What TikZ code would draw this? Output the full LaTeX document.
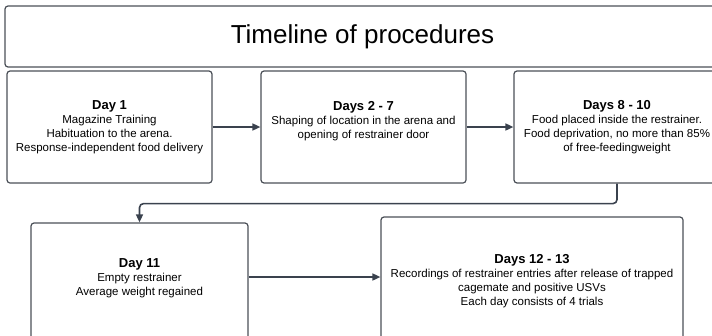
\documentclass[tikz,border=0pt]{standalone}
\usepackage{fontspec}
\setmainfont{Liberation Sans}
\usepackage{tikz}
\usetikzlibrary{arrows.meta}
\definecolor{edgecol}{RGB}{75, 80, 88}
\definecolor{arrcol}{RGB}{58, 66, 78}
\tikzstyle{every box node}=[draw=edgecol,line width=1.2pt,rounded corners=3pt,align=center,inner sep=0pt,font=\fontsize{11.5}{14}\selectfont]
\tikzstyle{pointer}=[draw=arrcol,line width=1.6pt,-{Triangle[length=8pt,width=7pt]}]
\newcommand{\dayhead}[1]{{\fontsize{13}{14}\selectfont\bfseries #1}}

\begin{document}
\begin{tikzpicture}[x=1pt,y=-1pt]
\useasboundingbox (0,0) rectangle (712,335);
\clip (0,0) rectangle (712,335);

\node[every box node,minimum width=715pt,minimum height=61pt,font=\fontsize{26}{30}\selectfont]
  (title) at (362.5,36.5) {Timeline of procedures};

\node[every box node,minimum width=205pt,minimum height=112pt] (day1) at (109.5,127)
  {\dayhead{Day 1}\\Magazine Training\\Habituation to the arena.\\Response-independent food delivery};
\node[every box node,minimum width=205pt,minimum height=112pt] (day2) at (363.5,127)
  {\dayhead{Days 2 - 7}\\Shaping of location in the arena and\\opening of restrainer door\\\mbox{}};
\node[every box node,minimum width=206pt,minimum height=112pt] (day8) at (617,127)
  {\dayhead{Days 8 - 10}\\Food placed inside the restrainer.\\Food deprivation, no more than 85\%\\of free-feedingweight};

\node[every box node,minimum width=217pt,minimum height=122pt] (day11) at (139.5,284)
  {\dayhead{Day 11}\\Empty restrainer\\Average weight regained\\\mbox{}};
\node[every box node,minimum width=302pt,minimum height=128pt] (day12) at (532,281)
  {\dayhead{Days 12 - 13}\\Recordings of restrainer entries after release of trapped\\cagemate and positive USVs\\Each day consists of 4 trials};

\draw[pointer] (day1.east) -- (day2.west);
\draw[pointer] (day2.east) -- (day8.west);
\draw[pointer,rounded corners=4pt] (day8.south) -- ++(0,20) -| (day11.north);
\coordinate (mid11) at ([yshift=7pt]day11.east);
\draw[pointer] (mid11) -- (mid11 -| day12.west);

\end{tikzpicture}
\end{document}
